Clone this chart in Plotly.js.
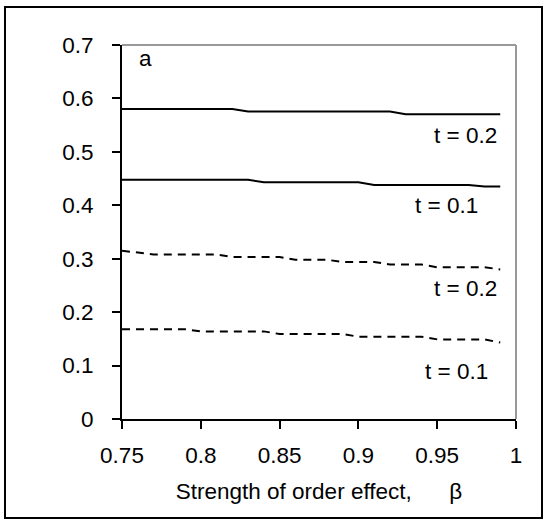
<!DOCTYPE html>
<html>
<head>
<meta charset="utf-8">
<script src="https://cdn.plot.ly/plotly-3.0.1.min.js"></script>
<style>
  html, body { margin:0; padding:0; background:#fff; }
  #wrap { position:relative; width:547px; height:523px; }
  #chart { position:absolute; left:0; top:0; width:547px; height:523px; }
  #frame { position:absolute; left:4px; top:6px; width:535px; height:509px; border:2px solid #000; pointer-events:none; }
</style>
</head>
<body>
<div id="wrap"><div id="chart"></div><div id="frame"></div></div>
<script>
const beta = [0.75,0.76,0.77,0.78,0.79,0.80,0.81,0.82,0.83,0.84,0.85,0.86,0.87,0.88,0.89,0.90,0.91,0.92,0.93,0.94,0.95,0.96,0.97,0.98,0.99];
const solidT02 = [0.580,0.580,0.580,0.580,0.580,0.580,0.580,0.580,0.5755,0.5755,0.5755,0.5755,0.5755,0.5755,0.5755,0.5755,0.5755,0.5755,0.5705,0.5705,0.5705,0.5705,0.5705,0.5705,0.5705];
const solidT01 = [0.448,0.448,0.448,0.448,0.448,0.448,0.448,0.448,0.448,0.443,0.443,0.443,0.443,0.443,0.443,0.443,0.438,0.438,0.438,0.438,0.438,0.438,0.438,0.435,0.435];
const dashT02 = [0.315,0.311,0.308,0.308,0.308,0.308,0.308,0.303,0.303,0.303,0.303,0.298,0.298,0.298,0.294,0.294,0.294,0.289,0.289,0.289,0.284,0.284,0.284,0.284,0.280];
const dashT01 = [0.168,0.168,0.168,0.168,0.168,0.164,0.164,0.164,0.164,0.164,0.159,0.159,0.159,0.159,0.159,0.154,0.154,0.154,0.154,0.154,0.149,0.149,0.149,0.149,0.143];
const xTicks = [0.75,0.8,0.85,0.9,0.95,1];
const xTickText = ['0.75','0.8','0.85','0.9','0.95','1'];
const yTicks = [0,0.1,0.2,0.3,0.4,0.5,0.6,0.7];
const yTickText = ['0','0.1','0.2','0.3','0.4','0.5','0.6','0.7'];
const labelText = ['t = 0.2','t = 0.1','t = 0.2','t = 0.1','a'];
const labelX = [0.989, 0.977, 0.989, 0.9835, 0.7652];
const labelY = [0.530, 0.400, 0.245, 0.088, 0.675];

const FONT = 'Liberation Sans, Arial, sans-serif';
const FS = 22.5;
function tr(y, dash) {
  return {x: beta, y: y, type:'scatter', mode:'lines',
    line:{color:'#000', width:2, dash: dash}, hoverinfo:'skip', showlegend:false};
}
const data = [tr(solidT02,'solid'), tr(solidT01,'solid'), tr(dashT02,'8px,6px'), tr(dashT01,'8px,6px')];

const annotations = labelText.map((t, i) => ({
  text:t, x:labelX[i], y:labelY[i], xref:'x', yref:'y', showarrow:false,
  xanchor: t==='a' ? 'center' : 'right', yanchor:'middle',
  font:{family:FONT, size:FS, color:'#000'}
}));

const layout = {
  width:547, height:523,
  margin:{l:122, r:31, t:45, b:104},
  paper_bgcolor:'#fff', plot_bgcolor:'#fff',
  showlegend:false,
  font:{family:FONT, size:FS, color:'#000'},
  xaxis:{range:[0.75,1], tickvals:xTicks, ticktext:xTickText, ticks:'outside', ticklen:8, tickwidth:2, tickcolor:'#000',
    showline:true, linecolor:'#000', linewidth:2, showgrid:false, zeroline:false, mirror:false,
    tickfont:{family:FONT, size:FS, color:'#000'}, ticklabelstandoff:7,
    title:{text:'Strength of order effect,\u00a0\u00a0\u00a0\u00a0\u00a0\u00a0β', font:{family:FONT, size:FS, color:'#000'}, standoff:16}},
  yaxis:{range:[0,0.7], tickvals:yTicks, ticktext:yTickText, ticks:'outside', ticklen:8, tickwidth:2, tickcolor:'#000',
    showline:true, linecolor:'#000', linewidth:2, showgrid:false, zeroline:false,
    tickfont:{family:FONT, size:FS, color:'#000'}, ticklabelstandoff:14},
  shapes:[
    {type:'line', xref:'paper', yref:'paper', x0:0, x1:1, y0:1, y1:1, line:{color:'#999', width:2}},
    {type:'line', xref:'paper', yref:'paper', x0:1, x1:1, y0:0, y1:1, line:{color:'#999', width:2}}
  ],
  annotations: annotations
};
Plotly.newPlot('chart', data, layout, {staticPlot:true, displayModeBar:false});
</script>
</body>
</html>
